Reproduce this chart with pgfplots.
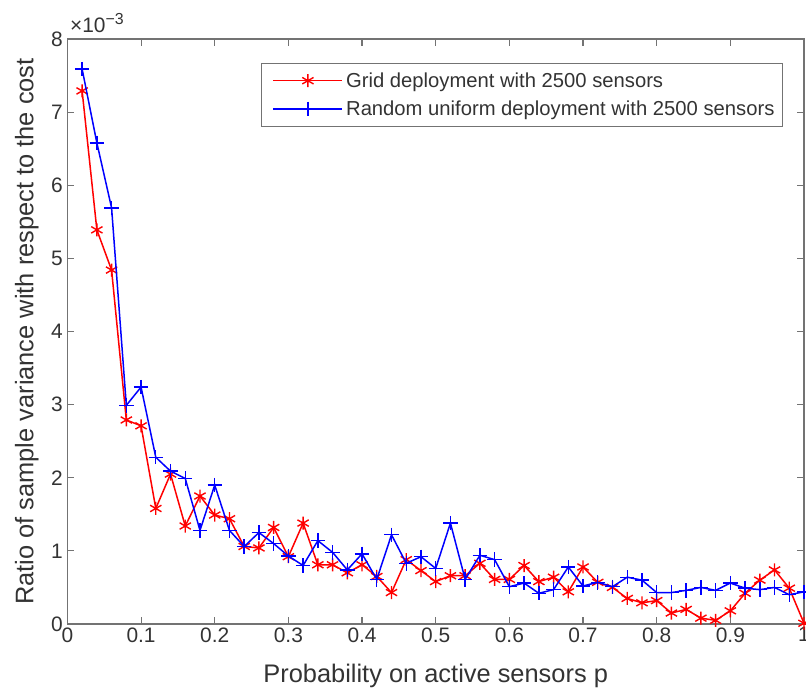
\documentclass[border=0pt]{standalone}
\usepackage{pgfplots}
\pgfplotsset{compat=1.18}
\usepackage{fontspec}
\setmainfont{Liberation Sans}
\definecolor{axgray}{gray}{0.45}
\definecolor{txtgray}{gray}{0.2}
\begin{document}
\begin{tikzpicture}
\path[use as bounding box] (-67.4bp,-68.7bp) rectangle (738.6bp,624bp);
\begin{axis}[
  at={(0,0)}, anchor=south west,
  scale only axis, width=736.6bp, height=585bp,
  clip mode=individual,
  xmin=0, xmax=1, ymin=0, ymax=8,
  xtick={0,0.1,0.2,0.3,0.4,0.5,0.6,0.7,0.8,0.9,1},
  xticklabels={0,0.1,0.2,0.3,0.4,0.5,0.6,0.7,0.8,0.9,1},
  ytick={0,1,2,3,4,5,6,7,8},
  yticklabels={0,1,2,3,4,5,6,7,8},
  /pgf/number format/assume math mode=true,
  tick align=inside, xtick pos=both, ytick pos=both,
  major tick length=7bp,
  axis line style={axgray, line width=1.1bp},
  every tick/.style={axgray, line width=1.1bp},
  tick label style={font=\fontsize{21}{25}\selectfont, text=txtgray},
  yticklabel style={xshift=-1bp},
  every axis x label/.style={at={(rel axis cs:0.5,0)}, yshift=-58.5bp, anchor=base,
    font=\fontsize{25.5}{30}\selectfont, text=txtgray},
  every axis y label/.style={at={(rel axis cs:0,0.5)}, xshift=-34bp, rotate=90, anchor=base,
    font=\fontsize{25.5}{30}\selectfont, text=txtgray},
  xlabel={Probability on active sensors p},
  ylabel={Ratio of sample variance with respect to the cost},
  legend style={at={(0.9715,0.9597)}, anchor=north east, draw=axgray, line width=1.1bp,
    font=\fontsize{20.3}{24}\selectfont, text=txtgray, inner xsep=5bp, inner ysep=6.5bp,
    nodes={inner sep=3bp}, row sep=6bp},
  legend cell align=left,
  legend image code/.code={\path (-6bp,0bp); \draw[mark repeat=2,mark phase=2] plot coordinates {(0bp,0bp) (34.5bp,0bp) (69bp,0bp)};},
]
\addplot[red, line width=1.5bp, mark=asterisk, mark size=6.5bp, mark options={line width=1.4bp}] table {
x y
0.02 7.29
0.04 5.39
0.06 4.84
0.08 2.79
0.10 2.71
0.12 1.58
0.14 2.05
0.16 1.34
0.18 1.75
0.20 1.49
0.22 1.44
0.24 1.06
0.26 1.04
0.28 1.32
0.30 0.92
0.32 1.38
0.34 0.81
0.36 0.81
0.38 0.70
0.40 0.81
0.42 0.65
0.44 0.43
0.46 0.88
0.48 0.73
0.50 0.58
0.52 0.66
0.54 0.66
0.56 0.83
0.58 0.61
0.60 0.61
0.62 0.80
0.64 0.58
0.66 0.64
0.68 0.44
0.70 0.78
0.72 0.57
0.74 0.50
0.76 0.35
0.78 0.29
0.80 0.32
0.82 0.15
0.84 0.20
0.86 0.08
0.88 0.05
0.90 0.18
0.92 0.42
0.94 0.60
0.96 0.74
0.98 0.49
1.00 0.01
};
\addlegendentry{Grid deployment with 2500 sensors}
\addplot[blue, line width=1.5bp, mark=+, mark size=7.2bp, mark options={line width=1.4bp}] table {
x y
0.02 7.59
0.04 6.58
0.06 5.69
0.08 2.99
0.10 3.24
0.12 2.28
0.14 2.09
0.16 1.99
0.18 1.28
0.20 1.90
0.22 1.28
0.24 1.06
0.26 1.25
0.28 1.10
0.30 0.93
0.32 0.80
0.34 1.14
0.36 0.98
0.38 0.74
0.40 0.96
0.42 0.61
0.44 1.22
0.46 0.83
0.48 0.92
0.50 0.76
0.52 1.38
0.54 0.61
0.56 0.94
0.58 0.88
0.60 0.51
0.62 0.56
0.64 0.42
0.66 0.47
0.68 0.78
0.70 0.52
0.72 0.57
0.74 0.51
0.76 0.64
0.78 0.60
0.80 0.43
0.82 0.43
0.84 0.46
0.86 0.50
0.88 0.46
0.90 0.56
0.92 0.49
0.94 0.47
0.96 0.50
0.98 0.40
1.00 0.44
};
\addlegendentry{Random uniform deployment with 2500 sensors}
\node[anchor=base west, inner sep=0pt, text=txtgray, font=\fontsize{21}{25}\selectfont] at (rel axis cs:0,1) [yshift=7bp, xshift=2.5bp] {×10\raisebox{8bp}{\fontsize{16}{19}\selectfont −3}};
\end{axis}
\end{tikzpicture}
\end{document}
